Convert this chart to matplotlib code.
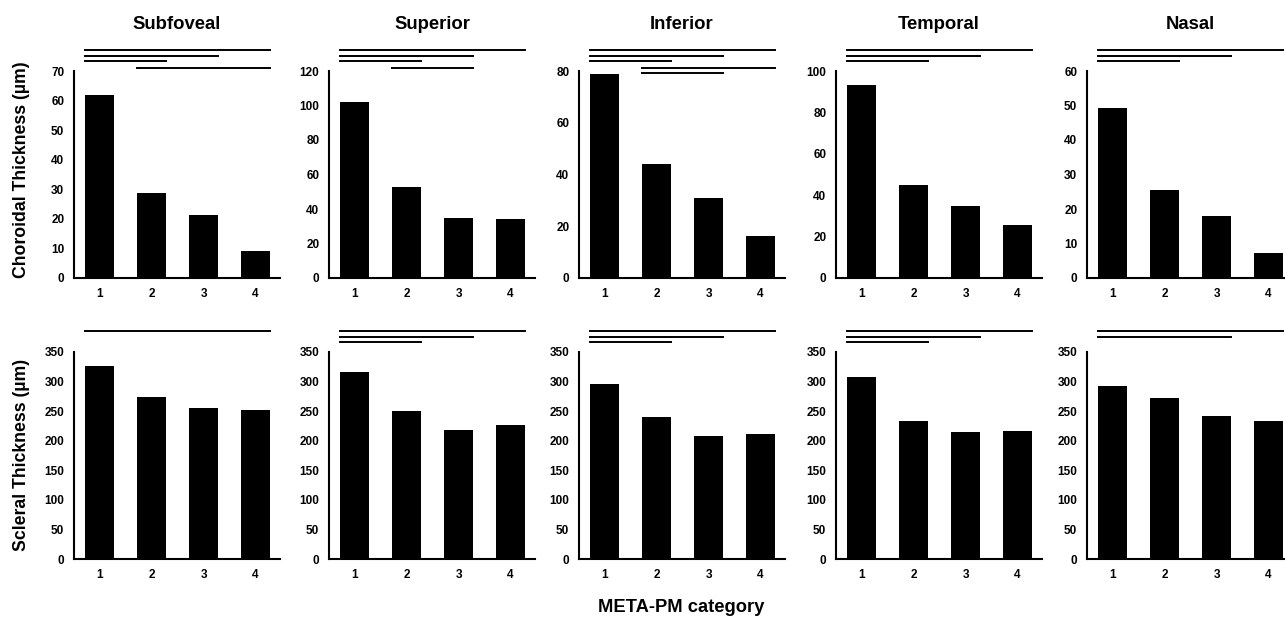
import matplotlib
matplotlib.use("Agg")
import matplotlib.pyplot as plt
import matplotlib.transforms as mtransforms

plt.rcParams['font.family'] = ['Liberation Sans', 'DejaVu Sans']
plt.rcParams['font.weight'] = 'bold'

regions = ["Subfoveal", "Superior", "Inferior", "Temporal", "Nasal"]
categories = [1, 2, 3, 4]

choroidal = [
    [62.0, 28.9, 21.3, 9.1],
    [102.2, 52.9, 35.0, 34.4],
    [79.0, 43.9, 30.9, 16.4],
    [93.2, 44.8, 34.8, 25.6],
    [49.2, 25.4, 17.9, 7.2],
]
choroidal_ymax = [70, 120, 80, 100, 60]
choroidal_ticks = [10, 20, 20, 20, 10]

scleral = [
    [326.8, 274.0, 254.7, 252.5],
    [317.0, 250.8, 217.5, 226.6],
    [295.9, 240.0, 208.0, 211.4],
    [307.0, 232.7, 215.3, 217.0],
    [292.5, 272.8, 242.3, 233.9],
]

# significant pairwise comparisons (category i vs j), top line first
choroidal_pairs = [
    [(1, 4), (1, 3), (1, 2), (2, 4)],
    [(1, 4), (1, 3), (1, 2), (2, 3)],
    [(1, 4), (1, 3), (1, 2), (2, 4), (2, 3)],
    [(1, 4), (1, 3), (1, 2)],
    [(1, 4), (1, 3), (1, 2)],
]
scleral_pairs = [
    [(1, 4)],
    [(1, 4), (1, 3), (1, 2)],
    [(1, 4), (1, 3), (1, 2)],
    [(1, 4), (1, 3), (1, 2)],
    [(1, 4), (1, 3)],
]

W, H = 1285, 619
fig = plt.figure(figsize=(W / 100, H / 100), dpi=100)

lefts = [74, 329, 579, 836, 1087]
ax_w = 206
ax_h = 207
bottoms = [619 - 278, 619 - 559]
levels = [1.101, 1.074, 1.048, 1.014, 0.990]
bar_w = 0.56


def draw_panel(ax, values, ymax, step, pairs):
    ax.bar(categories, values, width=bar_w, color='black')
    ax.set_xlim(0.51, 4.47)
    ax.set_ylim(0, ymax)
    ax.set_yticks(range(0, ymax + 1, step))
    ax.set_xticks(categories)
    for s in ['top', 'right']:
        ax.spines[s].set_visible(False)
    for s in ['left', 'bottom']:
        ax.spines[s].set_linewidth(1.5)
    ax.tick_params(length=0, pad=7, labelsize=8.5)
    for lab in ax.get_xticklabels() + ax.get_yticklabels():
        lab.set_fontweight('bold')
    trans = mtransforms.blended_transform_factory(ax.transData, ax.transAxes)
    for k, (i, j) in enumerate(pairs):
        ax.plot([i - bar_w / 2, j + bar_w / 2], [levels[k], levels[k]],
                color='black', lw=1.4, transform=trans, clip_on=False)


for c in range(5):
    ax = fig.add_axes([lefts[c] / W, bottoms[0] / H, ax_w / W, ax_h / H])
    draw_panel(ax, choroidal[c], choroidal_ymax[c], choroidal_ticks[c], choroidal_pairs[c])
    ax.text(0.5, (278 - 29) / ax_h, regions[c], transform=ax.transAxes,
            ha='center', va='baseline', fontsize=13.3, fontweight='bold')

    ax2 = fig.add_axes([lefts[c] / W, bottoms[1] / H, ax_w / W, ax_h / H])
    draw_panel(ax2, scleral[c], 350, 50, scleral_pairs[c])

fig.text(22 / W, 1 - 170 / H, "Choroidal Thickness (µm)", rotation=90,
         ha='center', va='center', fontsize=12.7, fontweight='bold')
fig.text(22 / W, 1 - 455 / H, "Scleral Thickness (µm)", rotation=90,
         ha='center', va='center', fontsize=12.7, fontweight='bold')
fig.text(681 / W, 1 - 608 / H, "META-PM category",
         ha='center', va='center', fontsize=13.2, fontweight='bold')

fig.savefig("out.png", dpi=100)
